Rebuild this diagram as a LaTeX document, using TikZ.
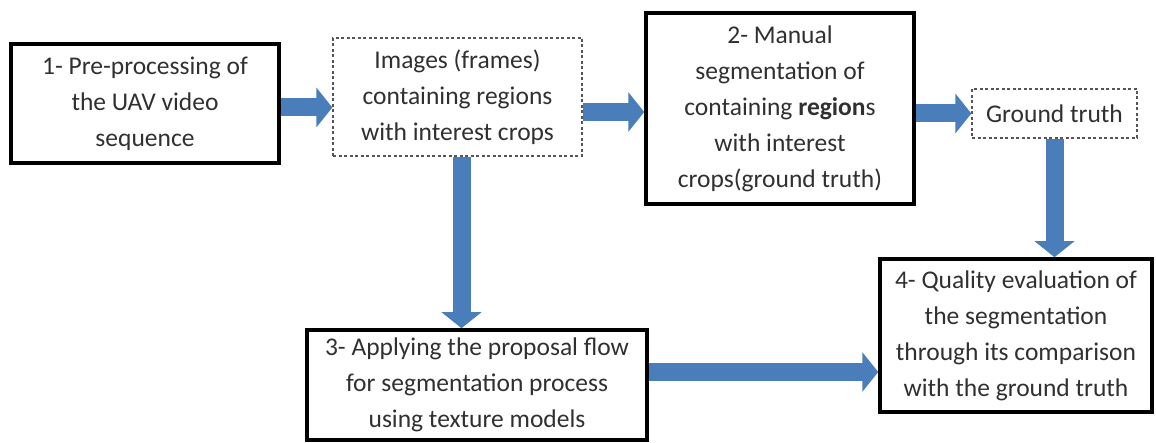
\documentclass[tikz,border=0pt]{standalone}
\usepackage{fontspec}
\setmainfont{Carlito}
\usetikzlibrary{arrows.meta,calc}
\definecolor{arrowblue}{HTML}{4A7EBB}
\definecolor{txt}{HTML}{303030}
\definecolor{dashgray}{HTML}{555555}
\begin{document}
\begin{tikzpicture}[x=1pt,y=-1pt,
  solidbox/.style={draw=black,line width=3.5pt,align=center,text=txt,
    font=\fontsize{25.5}{36}\selectfont,inner sep=0pt},
  dashbox/.style={draw=dashgray,line width=1.3pt,dash pattern=on 3pt off 2.5pt,
    align=center,text=txt,font=\fontsize{25.5}{36}\selectfont,inner sep=0pt},
  blockarrow/.style={draw=arrowblue,line width=18pt,
    -{Triangle[width=39pt,length=16pt]}}
]
\useasboundingbox (0,0) rectangle (1156,443);
\node[solidbox,minimum width=268pt,minimum height=119pt] (b1) at (145,103.5)
  {1- Pre-processing of\\the UAV video\\sequence};
\node[dashbox,minimum width=249pt,minimum height=118pt] (img) at (457.5,97)
  {Images (frames)\\containing regions\\with interest crops};
\node[solidbox,minimum width=268pt,minimum height=191pt] (b2) at (780,108.5)
  {2- Manual\\segmentation of\\containing \textbf{region}s\\with interest\\crops(ground truth)};
\node[dashbox,minimum width=165pt,minimum height=49pt] (gt) at (1054.5,113.5)
  {Ground truth};
\node[solidbox,minimum width=272pt,minimum height=153pt] (b4) at (1016,335.5)
  {4- Quality evaluation of\\the segmentation\\through its comparison\\with the ground truth};
\node[solidbox,minimum width=340pt,minimum height=110pt] (b3) at (477,385)
  {3- Applying the proposal flow\\for segmentation process\\using texture models};

\draw[blockarrow] ([yshift=-4pt]b1.east) -- ([yshift=-4pt]b1.east -| img.west);
\draw[blockarrow] ([yshift=-15pt]img.east) -- ([yshift=-15pt]img.east -| b2.west);
\draw[blockarrow] (b2.east |- gt.west) -- (gt.west);
\draw[blockarrow] ([xshift=4pt]img.south) -- ([xshift=4pt]img.south |- b3.north);
\draw[blockarrow] (gt.south) -- (gt.south |- b4.north);
\draw[blockarrow] ([yshift=13pt]b3.east) -- ([yshift=13pt]b3.east -| b4.west);
\end{tikzpicture}
\end{document}
